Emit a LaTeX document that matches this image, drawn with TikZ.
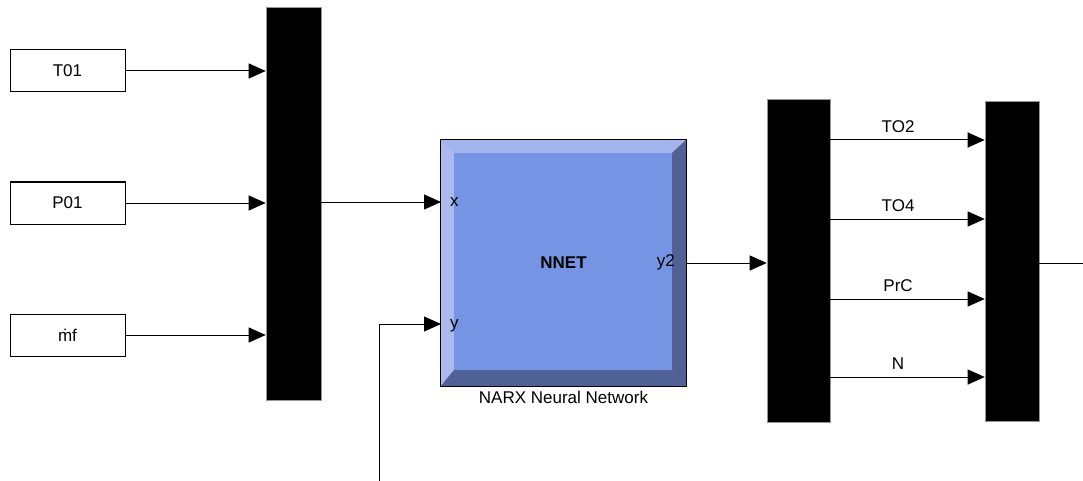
\documentclass[tikz,border=0pt]{standalone}
\usepackage{fontspec}
\setmainfont{Liberation Sans}
\usetikzlibrary{arrows.meta}
\definecolor{face}{RGB}{117,149,228}
\definecolor{lite}{RGB}{164,181,237}
\definecolor{dark}{RGB}{80,97,150}
\definecolor{edge}{RGB}{150,150,150}
\tikzset{
  txt/.style={font=\fontsize{17}{19}\selectfont, inner sep=0pt},
  inbox/.style={draw, line width=1pt, minimum width=115pt, minimum height=42pt, inner sep=0pt, font=\fontsize{17}{19}\selectfont},
  muxbar/.style={fill=black, draw=edge, line width=0.6pt, inner sep=0pt},
  arr/.style={line width=1pt, -{Triangle[length=17pt,width=15pt]}},
  ln/.style={line width=1pt},
  nnet/.style={fill=face, inner sep=0pt, minimum width=245pt, minimum height=246pt}
}
\begin{document}
\begin{tikzpicture}[x=1pt,y=-1pt]
\useasboundingbox (0,0) rectangle (1083,481);
% input blocks
\node[inbox] (T01) at (67.5,71) {T01};
\node[inbox] (P01) at (67.5,203) {P01};
\node[inbox] (mf) at (67.5,335) {\.{m}f};
% mux 1
\node[muxbar, minimum width=55pt, minimum height=393pt] (mux1) at (293.5,203.5) {};
\draw[arr] (T01.east) -- (T01.east -| mux1.west);
\draw[arr] (P01.east) -- (P01.east -| mux1.west);
\draw[arr] (mf.east) -- (mf.east -| mux1.west);
% NNET block
\node[nnet] (nn) at (563.5,263) {};
\fill[lite] (nn.north west) -- (nn.north east) -- ([shift={(-14,13)}]nn.north east) -- ([shift={(13,13)}]nn.north west) -- cycle;
\fill[lite!92!white] (nn.north west) -- ([shift={(13,13)}]nn.north west) -- ([shift={(13,-16)}]nn.south west) -- (nn.south west) -- cycle;
\fill[dark] (nn.north east) -- (nn.south east) -- ([shift={(-14,-16)}]nn.south east) -- ([shift={(-14,13)}]nn.north east) -- cycle;
\fill[dark] (nn.south west) -- (nn.south east) -- ([shift={(-14,-16)}]nn.south east) -- ([shift={(13,-16)}]nn.south west) -- cycle;
\draw[line width=1pt] (nn.north west) rectangle (nn.south east);
\node[txt, font=\fontsize{17}{19}\selectfont\bfseries] (nnlab) at (nn.center) {NNET};
\coordinate (px) at (441,202);
\coordinate (py) at (441,324);
\node[txt, anchor=west] (xlab) at (450,202) {x};
\node[txt, anchor=west] (ylab) at (450,326) {y};
\node[txt, anchor=east] (y2lab) at (675,262) {y2};
\node[txt, anchor=north] (narx) at (563.5,391) {NARX Neural Network};
\draw[arr] (mux1.east |- px) -- (px);
\coordinate (fb) at (379,481);
\draw[arr] (fb) |- (py);
% mux 2
\node[muxbar, minimum width=63pt, minimum height=323pt] (mux2) at (798.5,260.5) {};
\draw[arr] (nn.east) -- (nn.east -| mux2.west);
% mux 3
\node[muxbar, minimum width=54pt, minimum height=320pt] (mux3) at (1012,261) {};
\coordinate (o1) at (830,140);
\coordinate (o2) at (830,219);
\coordinate (o3) at (830,299);
\coordinate (o4) at (830,377);
\draw[arr] (o1) -- node[txt, pos=0.44, above=7pt] {TO2} (o1 -| mux3.west);
\draw[arr] (o2) -- node[txt, pos=0.44, above=7pt] {TO4} (o2 -| mux3.west);
\draw[arr] (o3) -- node[txt, pos=0.44, above=7pt] {PrC} (o3 -| mux3.west);
\draw[arr] (o4) -- node[txt, pos=0.44, above=7pt] {N} (o4 -| mux3.west);
\coordinate (out) at (1083,263);
\draw[ln] (mux3.east |- out) -- (out);
\end{tikzpicture}
\end{document}
